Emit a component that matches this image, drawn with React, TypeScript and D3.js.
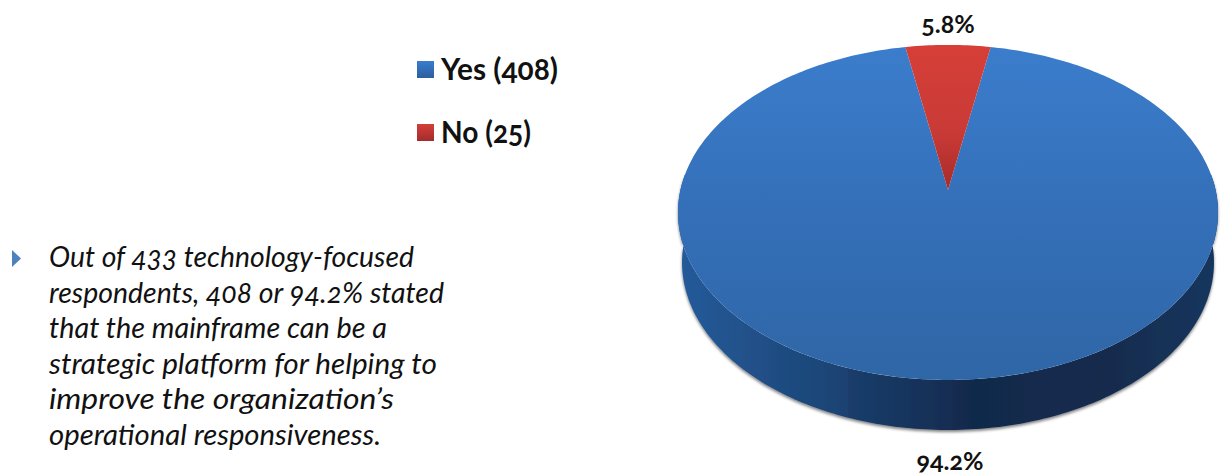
import React from "react";
import * as d3 from "d3";

const categories = ["Yes", "No"];
const counts = [408, 25];
const sliceLabels = ["94.2%", "5.8%"];
const bodyLines = [
  "Out of 433 technology-focused",
  "respondents, 408 or 94.2% stated",
  "that the mainframe can be a",
  "strategic platform for helping to",
  "improve the organization\u2019s",
  "operational responsiveness.",
];
// rendered widths in the reference, the original face is not installed
const bodyWidths = [365, 395, 338, 388, 345, 332];
const legendWidths = [117, 90];

const width = 1222;
const height = 476;
const font = "Lato, 'Open Sans', sans-serif";
const apex = { x: 948, y: 190 };
const depth = 50;

// the top of the pie is a tilted circle, so the middle sits above the ellipse centre
const tilt = 0.134;
const spreadX = 267.6;
const spreadY = 164.5;

function project(angle: number, radius = 1, drop = 0, shrink = 1) {
  const u = Math.sin(angle) * radius;
  const v = Math.cos(angle) * radius;
  const w = 1 + tilt * v;
  return [apex.x + (shrink * spreadX * u) / w, apex.y - (spreadY * v) / w + drop] as [number, number];
}

function rim(start: number, end: number, drop = 0, shrink = 1) {
  const n = Math.max(2, Math.ceil(Math.abs(end - start) * 60));
  return d3.range(n + 1).map((i) => project(start + ((end - start) * i) / n, 1, drop, shrink));
}

const toPath = d3.line();

const App = () => {
  // "No" sits centred on twelve o'clock
  const noShare = (counts[1] / d3.sum(counts)) * 2 * Math.PI;
  const arcs = d3
    .pie<number>()
    .sort(null)
    .startAngle(noShare / 2)
    .endAngle(noShare / 2 + 2 * Math.PI)(counts);

  const yesArc = arcs[0];
  const noArc = arcs[1];
  const yesPath = toPath([[apex.x, apex.y], ...rim(yesArc.startAngle, yesArc.endAngle)]) + "Z";
  const noPath = toPath([[apex.x, apex.y], ...rim(noArc.startAngle, noArc.endAngle)]) + "Z";
  const wall = toPath([...rim(Math.PI / 2 - 0.1, (3 * Math.PI) / 2 + 0.1), ...rim((3 * Math.PI) / 2 + 0.1, Math.PI / 2 - 0.1, depth, 0.985)]) + "Z";

  const legendY = d3.scalePoint<string>().domain(categories).range([70, 133]);
  const lineY = d3
    .scalePoint<string>()
    .domain(bodyLines)
    .range([267, 445]);

  return (
    <svg
      width={width}
      height={height}
      style={{ position: "absolute", left: 0, top: 0, background: "#fff", fontVariantNumeric: "oldstyle-nums" }}
      fontFamily={font}
    >
      <defs>
        <linearGradient id="topBlue" x1="0" y1="0" x2="0" y2="1">
          <stop offset="0%" stopColor="#3b7dcc" />
          <stop offset="50%" stopColor="#346fb8" />
          <stop offset="100%" stopColor="#2f66a6" />
        </linearGradient>
        <linearGradient id="topRed" x1="0" y1="0" x2="0" y2="1">
          <stop offset="0%" stopColor="#d63f38" />
          <stop offset="60%" stopColor="#c93a36" />
          <stop offset="100%" stopColor="#a82b2b" />
        </linearGradient>
        {/* the wall has two faint seams, at about x=850 and x=1097 */}
        <linearGradient id="wallBlue" x1="0" y1="0" x2="1" y2="0">
          <stop offset="0%" stopColor="#255b9a" />
          <stop offset="31.5%" stopColor="#1b4272" />
          <stop offset="31.5%" stopColor="#1a3e6c" />
          <stop offset="55%" stopColor="#11294b" />
          <stop offset="77.6%" stopColor="#132b4e" />
          <stop offset="77.6%" stopColor="#122a4b" />
          <stop offset="100%" stopColor="#16365e" />
        </linearGradient>
        <linearGradient id="swatchBlue" x1="0" y1="0" x2="0" y2="1">
          <stop offset="0%" stopColor="#3a7cce" />
          <stop offset="100%" stopColor="#2c5f9e" />
        </linearGradient>
        <linearGradient id="swatchRed" x1="0" y1="0" x2="0" y2="1">
          <stop offset="0%" stopColor="#d33f39" />
          <stop offset="100%" stopColor="#a32c2c" />
        </linearGradient>
        <filter id="softShadow" x="-5%" y="-5%" width="110%" height="115%">
          <feGaussianBlur in="SourceAlpha" stdDeviation="1.6" />
          <feOffset dx="0" dy="1.5" />
          <feComponentTransfer>
            <feFuncA type="linear" slope="0.5" />
          </feComponentTransfer>
          <feMerge>
            <feMergeNode />
            <feMergeNode in="SourceGraphic" />
          </feMerge>
        </filter>
      </defs>

      <path d={wall} fill="url(#wallBlue)" filter="url(#softShadow)" />
      <path d={yesPath} fill="url(#topBlue)" />
      <path d={noPath} fill="url(#topRed)" />

      <text x={948} y={33} textAnchor="middle" fontSize={25} fontWeight={700} fill="#111">
        {sliceLabels[1]}
      </text>
      <text x={950} y={470} textAnchor="middle" fontSize={25} fontWeight={700} fill="#111">
        {sliceLabels[0]}
      </text>

      {categories.map((c, i) => (
        <g key={c}>
          <rect
            x={417}
            y={(legendY(c) as number) - 9}
            width={17}
            height={17}
            fill={i === 0 ? "url(#swatchBlue)" : "url(#swatchRed)"}
          />
          <text
            x={441}
            y={(legendY(c) as number) + 10}
            fontSize={29.5}
            fontWeight={700}
            fill="#111"
            textLength={legendWidths[i]}
            lengthAdjust="spacingAndGlyphs"
          >
            {`${c} (${counts[i]})`}
          </text>
        </g>
      ))}

      <path d="M12 250 L21 258.5 L12 267 Z" fill="#4f81bd" />
      {bodyLines.map((line, i) => (
        <text
          key={line}
          x={49}
          y={lineY(line)}
          fontSize={29.5}
          fontStyle="italic"
          fill="#111"
          textLength={bodyWidths[i]}
          lengthAdjust="spacingAndGlyphs"
        >
          {line}
        </text>
      ))}
    </svg>
  );
};

export default App;
